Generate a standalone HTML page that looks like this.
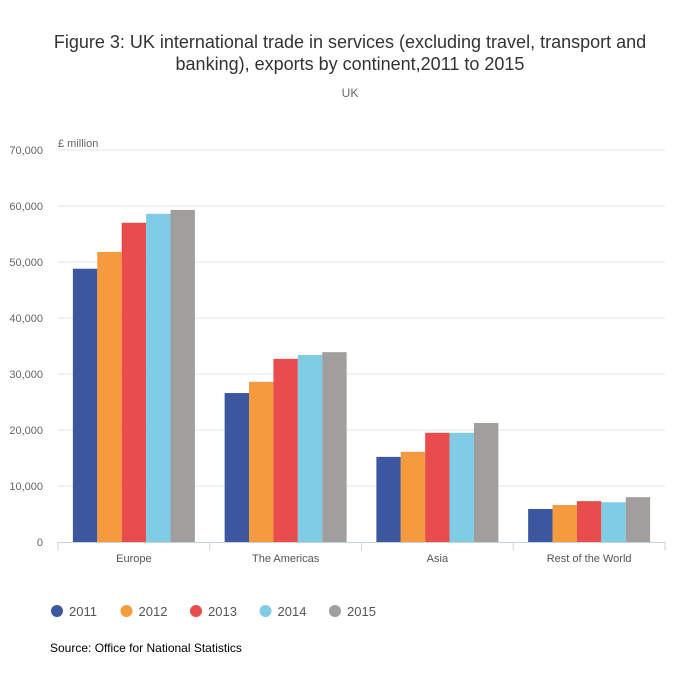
<!DOCTYPE html>
<html><head><meta charset="utf-8"><style>
body{margin:0;background:#fff;font-family:"Liberation Sans",sans-serif;}
svg text{font-family:"Liberation Sans",sans-serif;}
</style></head><body>
<svg id="chart" width="700" height="692">
<text x="350" y="48" text-anchor="middle" font-size="18" fill="#333">Figure 3: UK international trade in services (excluding travel, transport and</text>
<text x="350" y="70" text-anchor="middle" font-size="18" fill="#333">banking), exports by continent,2011 to 2015</text>
<text x="350" y="97" text-anchor="middle" font-size="12" fill="#666">UK</text>
<text x="58" y="147" font-size="11" fill="#666">£ million</text>
<g id="grid"></g><g id="bars"></g><g id="xaxis"></g>
<g id="legend"></g>
<text x="50" y="652" font-size="12" fill="#000">Source: Office for National Statistics</text>
</svg>
<script>
const categories=["Europe","The Americas","Asia","Rest of the World"];
const years=["2011","2012","2013","2014","2015"];
const v2011=[48800,26600,15200,5900];
const v2012=[51800,28600,16100,6600];
const v2013=[57000,32700,19500,7300];
const v2014=[58600,33400,19500,7100];
const v2015=[59300,33900,21250,8000];
const yTicks=[0,10000,20000,30000,40000,50000,60000,70000];
const tickLabels=["0","10,000","20,000","30,000","40,000","50,000","60,000","70,000"];
const series=[v2011,v2012,v2013,v2014,v2015];
const colors=["#3c57a0","#f59a3d","#e84c4d","#80cce4","#a09f9d"];
const NS="http://www.w3.org/2000/svg";
const x0=58,x1=665,yBase=542,yTop=150,yMax=70000;
const y=v=>yBase-(v/yMax)*(yBase-yTop);
const cw=(x1-x0)/categories.length,bw=24.4;
function mk(t,a,p){const e=document.createElementNS(NS,t);for(const k in a)e.setAttribute(k,a[k]);p.appendChild(e);return e;}
const grid=document.getElementById('grid');
yTicks.forEach((t,i)=>{
 if(i>0){const l=mk('line',{x1:x0,x2:x1,y1:y(t),y2:y(t),stroke:'#e3e3e3'},grid);
 
 }
 const tx=mk('text',{x:43,y:y(t)+4,'text-anchor':'end','font-size':11,fill:'#666'},grid);tx.textContent=tickLabels[i];
 
 
});
const bars=document.getElementById('bars');
categories.forEach((c,ci)=>{
 const start=x0+ci*cw+(cw-bw*5)/2;
 series.forEach((s,si)=>{
  const r=mk('rect',{x:start+si*bw,y:y(s[ci]),width:bw,height:yBase-y(s[ci]),fill:colors[si]},bars);
  
  
 });
});
const xa=document.getElementById('xaxis');
const al=mk('line',{x1:x0,x2:x1,y1:yBase+0.5,y2:yBase+0.5,stroke:'#c8d3e0'},xa);


for(let i=0;i<=categories.length;i++){const t=mk('line',{x1:x0+i*cw,x2:x0+i*cw,y1:yBase,y2:yBase+8,stroke:'#c8d3e0'},xa);
 
 }
categories.forEach((c,ci)=>{const t=mk('text',{x:x0+ci*cw+cw/2,y:562,'text-anchor':'middle','font-size':11,fill:'#555'},xa);t.textContent=c;
 
 });
const lg=document.getElementById('legend');
years.forEach((yr,i)=>{const gx=57+i*69.5;
 const g=mk('g',{},lg);
 
 
 mk('circle',{cx:gx,cy:611,r:6,fill:colors[i]},g);
 const t=mk('text',{x:gx+12,y:616,'font-size':13,fill:'#555'},g);t.textContent=yr;});
</script>
</body></html>
